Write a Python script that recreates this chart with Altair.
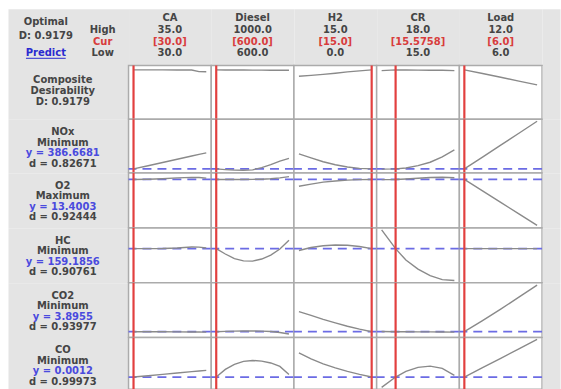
import altair as alt
import pandas as pd

# ---------------- factor settings ----------------
factors = ["CA", "Diesel", "H2", "CR", "Load"]
high_vals = [35.0, 1000.0, 15.0, 18.0, 12.0]
cur_vals = [30.0, 600.0, 15.0, 15.5758, 6.0]
low_vals = [30.0, 600.0, 0.0, 15.0, 6.0]
high_text = ["35.0", "1000.0", "15.0", "18.0", "12.0"]
cur_text = ["[30.0]", "[600.0]", "[15.0]", "[15.5758]", "[6.0]"]
low_text = ["30.0", "600.0", "0.0", "15.0", "6.0"]

# ---------------- responses ----------------
responses = ["NOx", "O2", "HC", "CO2", "CO"]
goals = ["Minimum", "Maximum", "Minimum", "Minimum", "Minimum"]
pred_y = [386.6681, 13.4003, 159.1856, 3.8955, 0.0012]
pred_y_text = ["386.6681", "13.4003", "159.1856", "3.8955", "0.0012"]
d_text = ["0.82671", "0.92444", "0.90761", "0.93977", "0.99973"]
composite_D_text = "0.9179"

# ---------------- factor grids ----------------
ca_x = [30, 31, 32, 33, 34, 34.5, 35]
diesel_x = [600, 650, 700, 750, 800, 850, 900, 950, 1000]
h2_x = [0, 2.5, 5, 7.5, 10, 12.5, 15]
cr_x = [15, 15.5758, 16, 16.5, 17, 17.5, 18]
load_x = [6, 7.5, 9, 10.5, 12]

# ---------------- response traces ----------------
comp_ca = [0.918, 0.918, 0.918, 0.917, 0.915, 0.885, 0.882]
comp_diesel = [0.918, 0.917, 0.916, 0.915, 0.914, 0.913, 0.912, 0.911, 0.910]
comp_h2 = [0.80, 0.815, 0.835, 0.855, 0.88, 0.90, 0.918]
comp_cr = [0.905, 0.918, 0.916, 0.914, 0.912, 0.910, 0.905]
comp_load = [0.918, 0.85, 0.78, 0.71, 0.64]

nox_ca = [386.67, 399.5, 412.4, 425.3, 438.1, 444.6, 451.0]
nox_diesel = [386.67, 384.0, 382.0, 381.5, 383.0, 392.0, 403.5, 417.5, 429.0]
nox_h2 = [447.0, 431.1, 415.4, 403.5, 394.5, 388.9, 386.67]
nox_cr = [385.8, 386.67, 390.5, 399.6, 413.4, 435.1, 462.7]
nox_load = [386.67, 434.0, 481.5, 529.0, 577.0]

o2_ca = [13.40, 13.42, 13.46, 13.52, 13.56, 13.55, 13.50]
o2_diesel = [13.40, 13.40, 13.40, 13.40, 13.41, 13.42, 13.45, 13.52, 13.62]
o2_h2 = [12.87, 13.03, 13.19, 13.28, 13.35, 13.39, 13.40]
o2_cr = [13.39, 13.40, 13.44, 13.50, 13.55, 13.57, 13.53]
o2_load = [13.40, 12.50, 11.60, 10.70, 9.80]

hc_ca = [159.19, 159.2, 159.3, 159.8, 160.6, 160.5, 159.8]
hc_diesel = [159.19, 154.6, 150.7, 148.7, 148.5, 150.3, 153.7, 158.9, 166.4]
hc_h2 = [157.6, 160.2, 161.7, 162.3, 162.1, 161.0, 159.19]
hc_cr = [175.3, 159.19, 149.4, 141.6, 136.0, 132.6, 131.9]
hc_load = [159.19, 159.19, 159.19, 159.19, 159.19]

co2_ca = [3.8955, 3.895, 3.893, 3.890, 3.887, 3.885, 3.882]
co2_diesel = [3.8955, 3.905, 3.915, 3.920, 3.920, 3.915, 3.900, 3.870, 3.820]
co2_h2 = [4.576, 4.447, 4.311, 4.192, 4.080, 3.982, 3.8955]
co2_cr = [3.900, 3.8955, 3.893, 3.890, 3.888, 3.885, 3.880]
co2_load = [3.8955, 4.27, 4.66, 5.06, 5.47]

co_ca = [0.0012, 0.0022, 0.0032, 0.0043, 0.0053, 0.0058, 0.0063]
co_diesel = [0.0012, 0.0070, 0.0108, 0.0131, 0.0138, 0.0133, 0.0119, 0.0093, 0.0032]
co_h2 = [0.0196, 0.0149, 0.0112, 0.0081, 0.0055, 0.0032, 0.0012]
co_cr = [-0.0066, 0.0012, 0.0055, 0.0085, 0.0095, 0.0078, 0.0025]
co_load = [0.0012, 0.0083, 0.0154, 0.0226, 0.0297]

factor_grids = [ca_x, diesel_x, h2_x, cr_x, load_x]
row_traces = [
    [comp_ca, comp_diesel, comp_h2, comp_cr, comp_load],
    [nox_ca, nox_diesel, nox_h2, nox_cr, nox_load],
    [o2_ca, o2_diesel, o2_h2, o2_cr, o2_load],
    [hc_ca, hc_diesel, hc_h2, hc_cr, hc_load],
    [co2_ca, co2_diesel, co2_h2, co2_cr, co2_load],
    [co_ca, co_diesel, co_h2, co_cr, co_load],
]

# ---------------- styling / layout ----------------
FONT = "DejaVu Sans"
BG = "#e4e4e4"
DARK = "#454545"
RED = "#d83c3c"
BLUE = "#4a4ade"
LINK = "#2a2ad0"
PANEL_W = 83
LABEL_W = 121
STRIP_W = 18
HEADER_H = 57
ROW_H = [54, 54, 55, 55, 55, 52]
Y_DOMAINS = [[0, 1], [370, 585], [9.6, 13.9], [130, 177], [3.7, 5.55], [-0.0081, 0.0312]]

gray_view = alt.ViewBackground(fill=BG, stroke="transparent")
panel_view = alt.ViewBackground(fill="white", stroke="#ababab", strokeWidth=1.5)


def text_layer(lines, colors, line_idx, cols, xs, ys, size=10):
    df = pd.DataFrame({"t": lines, "c": colors, "line": line_idx, "col": cols})
    return (
        alt.Chart(df)
        .mark_text(font=FONT, fontSize=size, fontWeight="bold", baseline="middle", align="center")
        .encode(
            x=alt.X("col:Q", scale=xs, axis=None),
            y=alt.Y("line:Q", scale=ys, axis=None),
            text="t:N",
            color=alt.Color("c:N", scale=None),
        )
    )


def text_block(lines, colors, line_idx, cols, width, height, xdom, ydom):
    xs = alt.Scale(domain=xdom, nice=False, zero=False)
    ys = alt.Scale(domain=ydom, reverse=True, nice=False, zero=False)
    return text_layer(lines, colors, line_idx, cols, xs, ys).properties(
        width=width, height=height, view=gray_view
    )


def strip(height):
    df = pd.DataFrame({"t": [""]})
    return (
        alt.Chart(df)
        .mark_text()
        .encode(text="t:N")
        .properties(width=STRIP_W, height=height, view=gray_view)
    )


def panel(r, f):
    h = ROW_H[r]
    xs = alt.Scale(domain=[low_vals[f], high_vals[f]], padding=5, nice=False, zero=False)
    ys = alt.Scale(domain=Y_DOMAINS[r], nice=False, zero=False)
    df = pd.DataFrame({"x": factor_grids[f], "y": row_traces[r][f]})
    curve = (
        alt.Chart(df)
        .mark_line(color="#8a8a8a", strokeWidth=1.4, clip=True)
        .encode(x=alt.X("x:Q", scale=xs, axis=None), y=alt.Y("y:Q", scale=ys, axis=None))
    )
    red = (
        alt.Chart(pd.DataFrame({"x": [cur_vals[f]]}))
        .mark_rule(color="#e2403f", strokeWidth=2.2)
        .encode(x=alt.X("x:Q", scale=xs, axis=None))
    )
    layers = [curve, red]
    if r > 0:
        dashed = (
            alt.Chart(pd.DataFrame({"y": [pred_y[r - 1]]}))
            .mark_rule(color="#6b6be4", strokeWidth=1.8, strokeDash=[9, 6])
            .encode(y=alt.Y("y:Q", scale=ys, axis=None))
        )
        layers = [dashed, curve, red]
    return alt.layer(*layers).properties(width=PANEL_W, height=h, view=panel_view)


# ---------------- header row ----------------
HDR_Y = [-0.75, 4.0]
lh_xs = alt.Scale(domain=[-0.667, 1.456], nice=False, zero=False)
lh_ys = alt.Scale(domain=HDR_Y, reverse=True, nice=False, zero=False)
lh_text = text_layer(
    ["Optimal", "D: " + composite_D_text, "Predict", "High", "Cur", "Low"],
    [DARK, DARK, LINK, DARK, RED, DARK],
    [0.33, 1.5, 2.97, 1.03, 2.0, 2.97],
    [0, 0, 0, 1, 1, 1],
    lh_xs, lh_ys,
)
# underline of the "Predict" link, placed in the same column/line scales
underline = (
    alt.Chart(pd.DataFrame({"c0": [-0.35], "c1": [0.35], "line": [3.4]}))
    .mark_rule(color=LINK, strokeWidth=1)
    .encode(
        x=alt.X("c0:Q", scale=lh_xs, axis=None),
        x2="c1:Q",
        y=alt.Y("line:Q", scale=lh_ys, axis=None),
    )
)
left_header = alt.layer(lh_text, underline).properties(width=LABEL_W, height=HEADER_H, view=gray_view)

factor_headers = [
    text_block(
        [factors[i], high_text[i], cur_text[i], low_text[i]],
        [DARK, DARK, RED, DARK],
        [0, 1, 2, 3],
        [0, 0, 0, 0],
        PANEL_W, HEADER_H, [-1, 1], HDR_Y,
    )
    for i in range(5)
]


# ---------------- response rows ----------------
def label_block(r):
    h = ROW_H[r]
    if r == 0:
        lines = ["Composite", "Desirability", "D: " + composite_D_text]
        colors = [DARK, DARK, DARK]
        idx = [0, 1, 2]
        top, sp = 15.0, 10.75
    else:
        lines = [responses[r - 1], goals[r - 1], "y = " + pred_y_text[r - 1], "d = " + d_text[r - 1]]
        colors = [DARK, DARK, BLUE, DARK]
        idx = [0, 1, 2, 3]
        top, sp = 13.0, 10.5
    ydom = [-top / sp, (h - top) / sp]
    return text_block(lines, colors, idx, [0] * len(lines), LABEL_W, h, [-10, 12], ydom)


cells = [left_header, *factor_headers, strip(HEADER_H)]
for r in range(6):
    cells += [label_block(r), *[panel(r, f) for f in range(5)], strip(ROW_H[r])]

chart = (
    alt.concat(*cells, columns=7, spacing=0, bounds="flush", align="each")
    .properties(padding={"left": 7, "top": 7, "right": 0, "bottom": 0}, background="white")
    .configure_view(stroke="transparent")
)

chart.save("out.html", embed_options={"renderer": "svg", "actions": False})
